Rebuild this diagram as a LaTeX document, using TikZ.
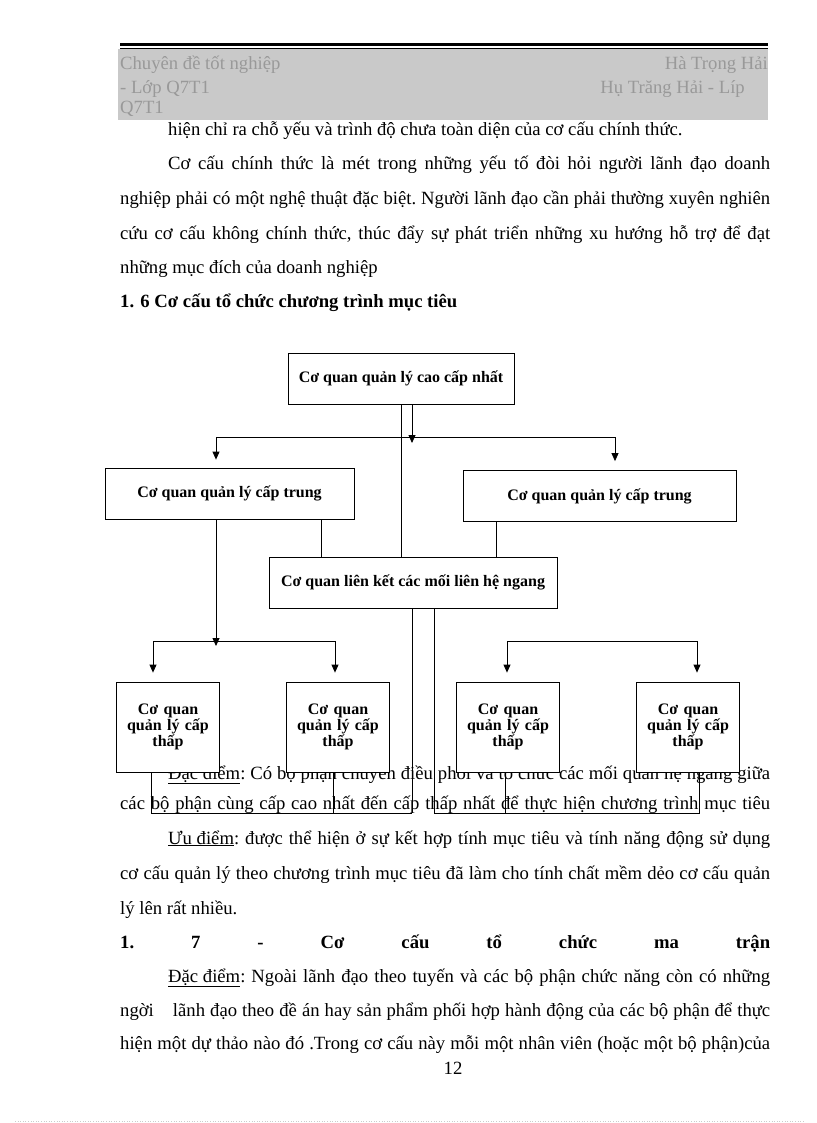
\documentclass[tikz,border=0pt]{standalone}
\usepackage{fontspec}
\setmainfont{Liberation Serif}
\usepackage{tikz}
\usetikzlibrary{arrows.meta, positioning, calc}

% one justified line of fixed width
\newcommand{\fitline}[2]{\makebox[#1pt][s]{\frenchspacing #2}}

\begin{document}
\begin{tikzpicture}[
  x=1pt, y=-1pt,
  txt/.style={
    anchor=base west,
    inner sep=0pt,
    font=\fontsize{18.67}{22}\selectfont\frenchspacing
  },
  hdr/.style={
    anchor=base west,
    inner sep=0pt,
    text=gray!80,
    font=\fontsize{18.67}{22}\selectfont
  },
  box/.style={
    rectangle,
    draw,
    fill=white,
    line width=0.8pt,
    align=center,
    inner sep=2pt,
    font=\fontsize{16}{16}\selectfont\bfseries
  },
  lowbox/.style={
    box,
    minimum width=103pt,
    minimum height=90pt,
    text width=96pt
  },
  conn/.style={
    line width=0.8pt
  },
  arrow/.style={
    -{Triangle[length=8pt,width=7pt]},
    line width=0.8pt
  }
]
\useasboundingbox (0,0) rectangle (816,1123);

% =========================================================
% Page header
% =========================================================
\fill[gray!42] (118,49) rectangle (768,120);
\draw[line width=2.5pt] (120,44.5) -- (768,44.5);
\draw[line width=0.8pt] (120,48) -- (768,48);

\node[hdr] (hdrA) at (120,70) {Chuyên đề tốt nghiệp};
\node[hdr, anchor=base east] (hdrB) at (768,70) {Hà Trọng Hải};
\node[hdr] (hdrC) at (120,94) {- Lớp Q7T1};
\node[hdr, anchor=base east] (hdrD) at (745,94) {Hụ Trăng Hải - Líp};
\node[hdr] (hdrE) at (120,114) {Q7T1};

% =========================================================
% Text above the chart
% =========================================================
\node[txt] (p1) at (168,136) {hiện chỉ ra chỗ yếu và trình độ chưa toàn diện của cơ cấu chính thức.};
\node[txt] (p2) at (168,170) {\fitline{602}{Cơ cấu chính thức là mét trong những yếu tố đòi hỏi người lãnh đạo doanh}};
\node[txt] (p3) at (120,205) {\fitline{650}{nghiệp phải có một nghệ thuật đặc biệt. Người lãnh đạo cần phải thường xuyên nghiên}};
\node[txt] (p4) at (120,240) {\fitline{650}{cứu cơ cấu không chính thức, thúc đẩy sự phát triển những xu hướng hỗ trợ để đạt}};
\node[txt] (p5) at (120,273) {những mục đích của doanh nghiệp};
\node[txt, font=\fontsize{18.67}{22}\selectfont\bfseries] (sec6) at (120,307) {1. 6 Cơ cấu tổ chức chương trình mục tiêu};

% =========================================================
% Text below the chart (partly hidden by the low boxes)
% =========================================================
\node[txt] (q1) at (168,779) {\fitline{602}{\underline{Đặc điểm}: Có bộ phận chuyên điều phối và tổ chức các mối quan hệ ngang giữa}};
\node[txt] (q2) at (120,809) {\fitline{650}{các bộ phận cùng cấp cao nhất đến cấp thấp nhất để thực hiện chương trình mục tiêu}};
\node[txt] (q3) at (168,844) {\fitline{602}{\underline{Ưu điểm}: được thể hiện ở sự kết hợp tính mục tiêu và tính năng động sử dụng}};
\node[txt] (q4) at (120,879) {\fitline{650}{cơ cấu quản lý theo chương trình mục tiêu đã làm cho tính chất mềm dẻo cơ cấu quản}};
\node[txt] (q5) at (120,914) {lý lên rất nhiều.};
\node[txt, font=\fontsize{18.67}{22}\selectfont\bfseries] (sec7) at (120,948) {\fitline{650}{1. 7 - Cơ cấu tổ chức ma trận}};
\node[txt] (q6) at (168,982) {\fitline{602}{\underline{Đặc điểm}: Ngoài lãnh đạo theo tuyến và các bộ phận chức năng còn có những}};
\node[txt] (q7) at (120,1016) {\fitline{650}{ngời\hspace{14pt} lãnh đạo theo đề án hay sản phẩm phối hợp hành động của các bộ phận để thực}};
\node[txt] (q8) at (120,1049) {\fitline{650}{hiện một dự thảo nào đó .Trong cơ cấu này mỗi một nhân viên (hoặc một bộ phận)của}};
\node[txt, anchor=base] (pageno) at (453,1074) {12};

\draw[gray!40, dotted, line width=0.6pt] (15,1121) -- (805,1121);

% =========================================================
% Chart boxes
% =========================================================
\node[box, minimum width=226pt, minimum height=51pt] (top) at (401,378.5) {Cơ quan quản lý cao cấp nhất};

\node[box, minimum width=249pt, minimum height=51pt] (midL) at (229.5,493.5) {Cơ quan quản lý cấp trung};
\node[box, minimum width=273pt, minimum height=51pt] (midR) at (599.5,496) {Cơ quan quản lý cấp trung};

\node[box, minimum width=288pt, minimum height=51pt] (linkbox) at (413,582.5) {Cơ quan liên kết các mối liên hệ ngang};

\node[lowbox] (lowA) at (168,727) {Cơ quan\\quản lý cấp\\thấp};
\node[lowbox] (lowB) at (338,727) {Cơ quan\\quản lý cấp\\thấp};
\node[lowbox] (lowC) at (508,727) {Cơ quan\\quản lý cấp\\thấp};
\node[lowbox] (lowD) at (688,727) {Cơ quan\\quản lý cấp\\thấp};

% =========================================================
% Connectors
% =========================================================
\coordinate (tipT)  at (412,443);
\coordinate (barTL) at (216,437);
\coordinate (barTR) at (615,437);
\coordinate (tipL)  at (216,646);
\coordinate (barLL) at (153,641);
\coordinate (barLR) at (335,641);
\coordinate (barRL) at (507,641);
\coordinate (barRR) at (697,641);
\coordinate (mLb) at ([xshift=91.5pt]midL.south);
\coordinate (mRb) at ([xshift=-103.5pt]midR.south);
\coordinate (jL) at (412,813);
\coordinate (jR) at (434,813);
\coordinate (jA) at (151,813);
\coordinate (jB) at (333,813);
\coordinate (jC) at (505,813);
\coordinate (jD) at (699,813);

% top level down to the middle level
\draw[arrow] (top.south -| tipT) -- (tipT);
\draw[conn] (barTL) -- (barTR);
\draw[arrow, shorten >=8pt] (barTL) -- (barTL |- midL.north);
\draw[arrow, shorten >=9pt] (barTR) -- (barTR |- midR.north);

% everything into the linking body
\draw[conn] (top.south) -- (top.south |- linkbox.north);
\draw[conn] (mLb) -- (mLb |- linkbox.north);
\draw[conn] (mRb) -- (mRb |- linkbox.north);

% middle level down to the low level
\draw[arrow] (midL.south -| tipL) -- (tipL);
\draw[conn] (barLL) -- (barLR);
\draw[conn] (barRL) -- (barRR);
\draw[arrow, shorten >=9pt] (barLL) -- (barLL |- lowA.north);
\draw[arrow, shorten >=9pt] (barLR) -- (barLR |- lowB.north);
\draw[arrow, shorten >=9pt] (barRL) -- (barRL |- lowC.north);
\draw[arrow, shorten >=9pt] (barRR) -- (barRR |- lowD.north);

% linking body down to the low level
\draw[conn] (linkbox.south -| jL) -- (jL);
\draw[conn] (linkbox.south -| jR) -- (jR);
\draw[conn] (lowA.south -| jA) -- (jA) -- (jL);
\draw[conn] (lowB.south -| jB) -- (jB);
\draw[conn] (jR) -- (jD) -- (lowD.south -| jD);
\draw[conn] (lowC.south -| jC) -- (jC);

\end{tikzpicture}
\end{document}
